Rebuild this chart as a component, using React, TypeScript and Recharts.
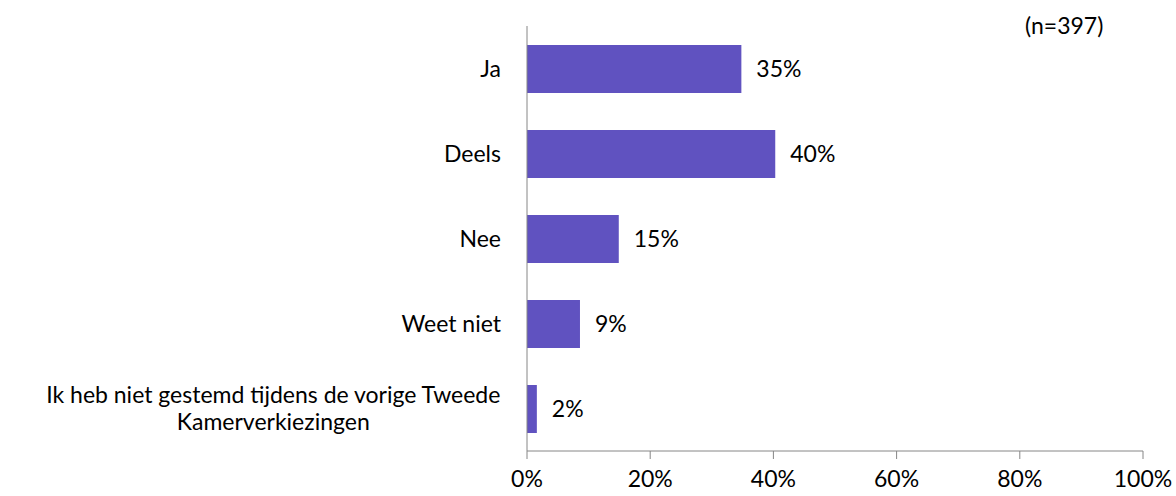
import { Bar, BarChart, LabelList, XAxis, YAxis } from "recharts";

const categories = [
  "Ja",
  "Deels",
  "Nee",
  "Weet niet",
  "Ik heb niet gestemd tijdens de vorige Tweede\nKamerverkiezingen",
];
const shares = [34.8, 40.3, 14.9, 8.6, 1.6];
const xTicks = [0, 20, 40, 60, 80, 100];
const sampleNote = "(n=397)";

const data = categories.map((name, i) => ({ name, value: shares[i] }));

const FONT = "Lato, 'Open Sans', sans-serif";
const FONT_SIZE = 23;

let ctx: CanvasRenderingContext2D | null = null;
function measure(text: string) {
  if (!ctx) ctx = document.createElement("canvas").getContext("2d");
  if (!ctx) return text.length * FONT_SIZE * 0.5;
  ctx.font = `${FONT_SIZE}px Lato`;
  return ctx.measureText(text).width;
}

function CategoryTick({ x, y, payload }: any) {
  const lines = String(payload.value).split("\n");
  const right = x - 18;
  if (lines.length === 1) {
    return (
      <text x={right} y={y} dy="0.35em" textAnchor="end" fill="#000" fontSize={FONT_SIZE} fontFamily={FONT}>
        {lines[0]}
      </text>
    );
  }
  const widest = Math.max(...lines.map(measure));
  const cx = right - widest / 2;
  const lh = 27;
  const start = y - ((lines.length - 1) * lh) / 2;
  return (
    <text textAnchor="middle" fill="#000" fontSize={FONT_SIZE} fontFamily={FONT}>
      {lines.map((l, i) => (
        <tspan key={i} x={cx} y={start + i * lh} dy="0.35em">
          {l}
        </tspan>
      ))}
    </text>
  );
}

export default function App() {
  return (
    <div style={{ position: "absolute", left: 0, top: 0, width: 1176, height: 496, background: "#fff" }}>
      <BarChart
        width={1176}
        height={496}
        data={data}
        layout="vertical"
        margin={{ top: 26, right: 33, bottom: 0, left: 0 }}
        barSize={48}
      >
        <XAxis
          type="number"
          domain={[0, 100]}
          ticks={xTicks}
          tickFormatter={(v) => `${v}%`}
          stroke="#868686"
          tickSize={8}
          height={45}
          tick={{ fill: "#000", fontSize: FONT_SIZE, fontFamily: FONT }}
          tickMargin={12}
        />
        <YAxis
          type="category"
          dataKey="name"
          width={527}
          stroke="#868686"
          tickLine={false}
          tick={<CategoryTick />}
          interval={0}
        />
        <Bar dataKey="value" fill="#6052C0" isAnimationActive={false}>
          <LabelList
            dataKey="value"
            position="right"
            offset={15}
            formatter={(v: any) => `${Math.round(v)}%`}
            style={{ fill: "#000", fontSize: FONT_SIZE, fontFamily: FONT }}
          />
        </Bar>
      </BarChart>
      <div
        style={{
          position: "absolute",
          left: 1025,
          top: 11,
          fontSize: FONT_SIZE,
          fontFamily: FONT,
          color: "#000",
          lineHeight: "28px",
        }}
      >
        {sampleNote}
      </div>
    </div>
  );
}
